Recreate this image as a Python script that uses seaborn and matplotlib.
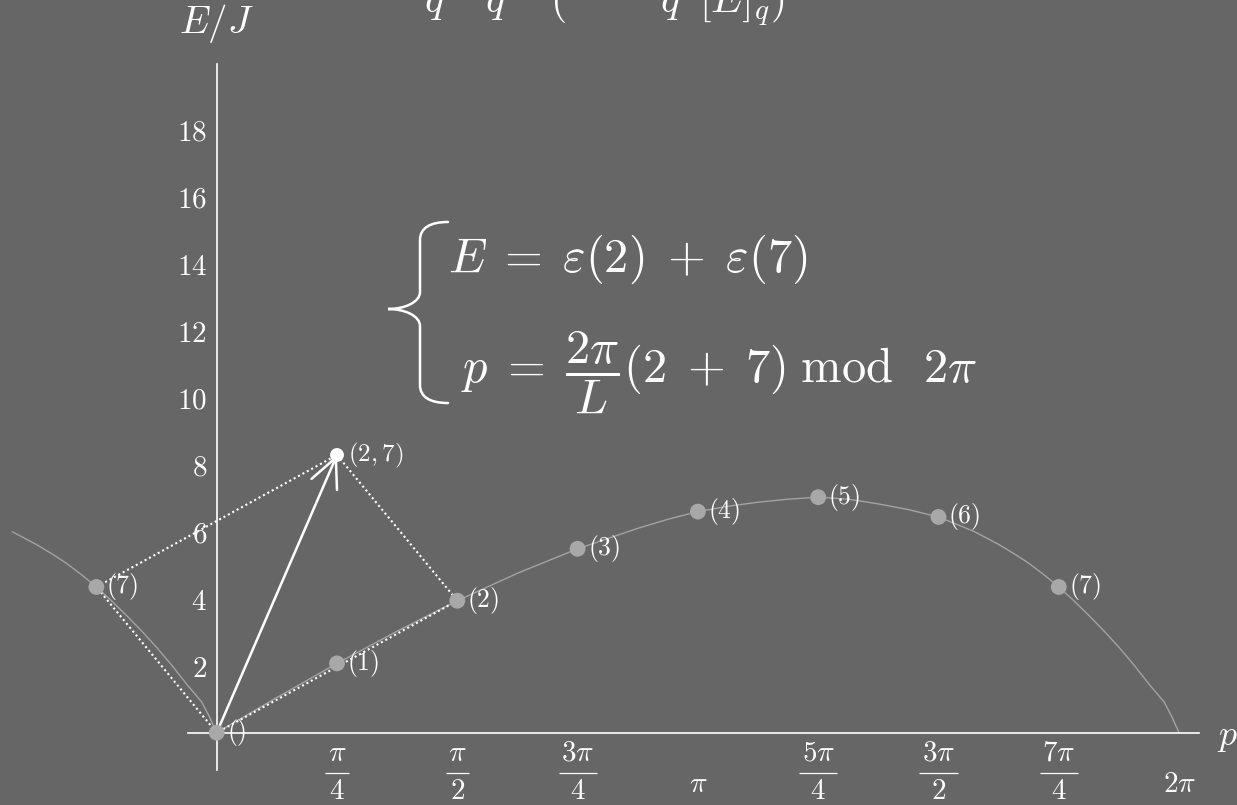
import numpy as np
import pandas as pd
import matplotlib
matplotlib.use("Agg")
import matplotlib.pyplot as plt
import seaborn as sns
from matplotlib.path import Path
from matplotlib.patches import PathPatch

BG = "#666666"
FG = "#ffffff"
DOT = "#a8a8a8"
CURVE = "#a3a3a3"

sns.set_style("white", rc={"axes.facecolor": BG, "figure.facecolor": BG})
plt.rcParams["mathtext.fontset"] = "cm"
plt.rcParams["font.family"] = ["DejaVu Serif"]

# ---- data -------------------------------------------------------------
L = 8                                   # chain length
mode_index = [0, 1, 2, 3, 4, 5, 6, 7]   # momentum quantum numbers
mode_energy = [0.0, 2.07, 3.94, 5.49, 6.60, 7.03, 6.44, 4.35]
mode_label = ["()", "(1)", "(2)", "(3)", "(4)", "(5)", "(6)", "(7)"]

# single-particle dispersion over one period, momentum in units of pi/4
curve_quarter_pi = [0.0, 0.5, 1.0, 1.5, 2.0, 2.5, 3.0, 3.5, 3.75, 4.0, 4.25,
                    4.5, 4.75, 5.0, 5.25, 5.5, 5.75, 6.0, 6.125, 6.3, 6.5,
                    6.625, 6.75, 6.875, 7.0, 7.125, 7.25, 7.375, 7.5, 7.625,
                    7.75, 7.875, 7.9375, 8.0]
curve_energy = [0.0, 1.05, 2.07, 3.03, 3.94, 4.76, 5.49, 6.10, 6.37, 6.60, 6.76,
                6.88, 6.97, 7.03, 6.97, 6.83, 6.66, 6.44, 6.26, 6.00, 5.62,
                5.35, 5.06, 4.72, 4.35, 3.94, 3.50, 3.04, 2.55, 2.02,
                1.45, 0.92, 0.49, 0.0]
curve_left_start = 6.3                  # part of the period repeated left of p = 0

pair = (2, 7)

# x tick labels as (numerator, denominator); plain labels have no denominator
xtick_quarters = [1, 2, 3, 4, 5, 6, 7, 8]
xtick_parts = [(r"\pi", "4"), (r"\pi", "2"), (r"3\pi", "4"), (r"\pi", ""),
               (r"5\pi", "4"), (r"3\pi", "2"), (r"7\pi", "4"), (r"2\pi", "")]
ytick_values = [2, 4, 6, 8, 10, 12, 14, 16, 18]

# ---- derived frames ---------------------------------------------------
modes = pd.DataFrame({
    "p": [2 * np.pi * k / L for k in mode_index],
    "E": mode_energy,
    "label": mode_label,
})
period = pd.DataFrame({"p": [q * np.pi / 4 for q in curve_quarter_pi], "E": curve_energy})
left = period[period["p"] >= curve_left_start * np.pi / 4 - 1e-9].assign(
    p=lambda d: d["p"] - 2 * np.pi)
curve = pd.concat([left, period], ignore_index=True).drop_duplicates("p")

i, j = pair
p_i, E_i = modes.loc[i, "p"], modes.loc[i, "E"]
p_j, E_j = modes.loc[j, "p"], modes.loc[j, "E"]
p_j_folded = p_j - 2 * np.pi
p_pair = (p_i + p_j) % (2 * np.pi)
E_pair = E_i + E_j

# ---- figure -----------------------------------------------------------
W, H = 1237, 805
fig = plt.figure(figsize=(W / 100, H / 100), dpi=100)
ax = fig.add_axes([0, 0, 1, 1])

X0, PX_RAD = 216.7, 120.3 / (np.pi / 4)
Y0, PX_E = 732.7, 33.5
ax.set_xlim(-X0 / PX_RAD, (W - X0) / PX_RAD)
ax.set_ylim((Y0 - H) / PX_E, Y0 / PX_E)


def ydata(ypix):
    return (Y0 - ypix) / PX_E


def fig_xy(x, y):
    return x / W, 1 - y / H


sns.lineplot(data=curve, x="p", y="E", sort=False, estimator=None,
             color=CURVE, lw=1.0, ax=ax, zorder=2)

# dotted parallelogram of the momentum sum
dots = dict(color=FG, lw=1.5, ls=(0, (1.0, 1.4)), zorder=3)
o_p, o_E = modes.loc[0, "p"], modes.loc[0, "E"]
ax.plot([o_p, p_j_folded], [o_E, E_j], **dots)
ax.plot([p_j_folded, p_pair], [E_j, E_pair], **dots)
ax.plot([p_pair, p_i], [E_pair, E_i], **dots)
ax.plot([p_i, o_p], [E_i, o_E], **dots)

ax.annotate("", xy=(p_pair, E_pair), xytext=(o_p, o_E),
            arrowprops=dict(arrowstyle="->,head_length=1.05,head_width=0.5",
                            color=FG, lw=1.8, shrinkA=0, shrinkB=0,
                            mutation_scale=20), zorder=4)

pts = pd.concat([modes,
                 pd.DataFrame({"p": [p_j_folded], "E": [E_j], "label": [mode_label[j]]})],
                ignore_index=True)
sns.scatterplot(data=pts, x="p", y="E", s=130, color=DOT, edgecolor="none",
                ax=ax, zorder=5, legend=False)
sns.scatterplot(x=[p_pair], y=[E_pair], s=100, color=FG, edgecolor="none",
                ax=ax, zorder=6, legend=False)

for _, r in pts.iterrows():
    ax.annotate(f"${r['label']}$", (r["p"], r["E"]), xytext=(10, 0),
                textcoords="offset pixels", ha="left", va="center",
                fontsize=18.5, color=FG, zorder=7)
ax.annotate(f"$({i},{j})$", (p_pair, E_pair), xytext=(11, 0),
            textcoords="offset pixels", ha="left", va="center",
            fontsize=18, color=FG, zorder=7)

# ---- axes through the origin -----------------------------------------
for s in ("top", "right"):
    ax.spines[s].set_visible(False)
for s in ("left", "bottom"):
    ax.spines[s].set_position(("data", 0))
    ax.spines[s].set_color(FG)
    ax.spines[s].set_linewidth(1.2)
ax.spines["bottom"].set_bounds((188 - X0) / PX_RAD, (1199 - X0) / PX_RAD)
ax.spines["left"].set_bounds(ydata(770), ydata(64))

ax.set_xticks([q * np.pi / 4 for q in xtick_quarters])
ax.tick_params(axis="x", direction="in", length=6, width=1, color=FG,
               labelbottom=False)
ax.set_yticks(ytick_values, labels=[f"${v}$" for v in ytick_values])
ax.tick_params(axis="y", direction="in", length=6, width=1, color=FG,
               labelcolor=FG, labelsize=21, pad=7)
ax.set_xlabel("")
ax.set_ylabel("")

# stacked fraction tick labels
TICK_FS = 21
frac_parts = []
for q, (num, den) in zip(xtick_quarters, xtick_parts):
    x = q * np.pi / 4
    if den:
        tn = ax.text(x, ydata(760.5), f"${num}$", ha="center", va="baseline",
                     fontsize=TICK_FS, color=FG, clip_on=False)
        td = ax.text(x, ydata(799), f"${den}$", ha="center", va="baseline",
                     fontsize=TICK_FS, color=FG, clip_on=False)
        frac_parts.append((x, tn, td))
    else:
        ax.text(x, ydata(792), f"${num}$", ha="center", va="baseline",
                fontsize=TICK_FS, color=FG)

fig.canvas.draw()
renderer = fig.canvas.get_renderer()
for x, tn, td in frac_parts:
    w = max(tn.get_window_extent(renderer).width, td.get_window_extent(renderer).width)
    hw = (w / 2 + 2.5) / PX_RAD
    ax.plot([x - hw, x + hw], [ydata(773), ydata(773)], color=FG, lw=0.9,
            solid_capstyle="butt", clip_on=False)

ax.text(0, ydata(23), r"$E/J$", ha="center", va="center",
        fontsize=28, color=FG)
ax.text((1217 - X0) / PX_RAD, ydata(737), r"$p$", ha="left",
        va="center", fontsize=26, color=FG)

# ---- two-particle state equations ------------------------------------
brace = [(448, 222), (430, 222), (420, 228), (420, 240),
         (420, 292),
         (420, 302), (405, 309), (388, 309),
         (405, 309), (420, 316), (420, 326),
         (420, 385),
         (420, 397), (430, 403), (448, 403)]
codes = [Path.MOVETO, Path.CURVE4, Path.CURVE4, Path.CURVE4,
         Path.LINETO,
         Path.CURVE4, Path.CURVE4, Path.CURVE4,
         Path.CURVE4, Path.CURVE4, Path.CURVE4,
         Path.LINETO,
         Path.CURVE4, Path.CURVE4, Path.CURVE4]
brace_path = Path([fig_xy(x, y) for x, y in brace], codes)
fig.add_artist(PathPatch(brace_path, facecolor="none", edgecolor=FG, lw=1.8,
                         capstyle="round", transform=fig.transFigure))

fig.text(*fig_xy(448, 272), r"$E\;=\;\varepsilon(2)\;+\;\varepsilon(7)$",
         ha="left", va="baseline", fontsize=35, color=FG)
fig.text(*fig_xy(461, 382),
         r"$p\;=\;\dfrac{2\pi}{L}(2\;+\;7)\;\mathrm{mod}\;\;\,2\pi$",
         ha="left", va="baseline", fontsize=35, color=FG)

# heading running off the top edge
fig.text(*fig_xy(424, 13), r"$q\quad\,q\quad\;(\qquad\;\;q\;\;[E]_q)$",
         ha="left", va="baseline", fontsize=30, color=FG)

fig.savefig("out.png", dpi=100, facecolor=BG)
